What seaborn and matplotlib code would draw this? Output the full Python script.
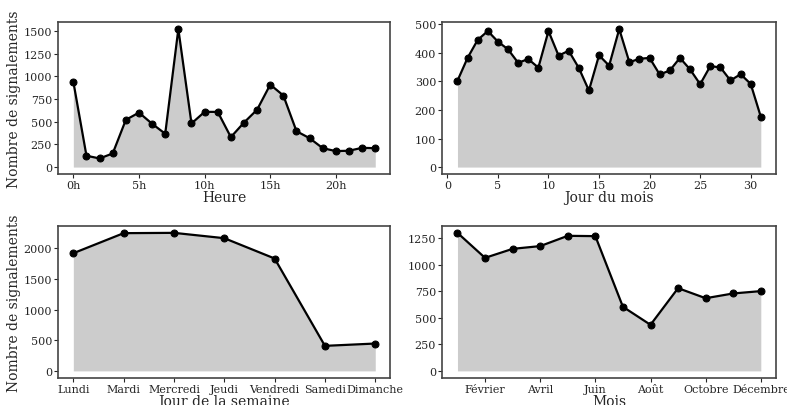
import numpy as np
import matplotlib
matplotlib.use('Agg')
import matplotlib.pyplot as plt
import seaborn as sns

# Data
heures = list(range(24))
signal_heure = [940, 125, 95, 150, 520, 600, 477, 367, 1520, 480, 608, 608, 330, 490,
                632, 908, 788, 395, 318, 208, 176, 180, 212, 208]

jours = list(range(1, 32))
signal_jour = [302, 382, 445, 476, 439, 412, 365, 378, 348, 476, 390, 407, 347, 268, 391,
               355, 483, 367, 379, 382, 324, 338, 382, 342, 290, 353, 349, 303, 325, 291, 176]

semaine = ['Lundi', 'Mardi', 'Mercredi', 'Jeudi', 'Vendredi', 'Samedi', 'Dimanche']
signal_semaine = [1918, 2245, 2250, 2163, 1832, 408, 446]

mois = list(range(1, 13))
mois_labels = ['Février', 'Avril', 'Juin', 'Août', 'Octobre', 'Décembre']
signal_mois = [1303, 1067, 1152, 1178, 1275, 1272, 605, 435, 781, 686, 731, 753]

sns.set_style('ticks')
plt.rcParams['font.family'] = ['DejaVu Serif']
plt.rcParams['axes.edgecolor'] = '#444444'
plt.rcParams['axes.linewidth'] = 1.2

fig = plt.figure(figsize=(7.87, 4.06), dpi=100)
ax1 = fig.add_axes([0.074, 0.569, 0.422, 0.374])
ax2 = fig.add_axes([0.562, 0.569, 0.424, 0.374])
ax3 = fig.add_axes([0.074, 0.067, 0.422, 0.374])
ax4 = fig.add_axes([0.562, 0.067, 0.424, 0.374])


def trace(ax, x, y, xlabel, ylabel=None):
    ax.fill_between(x, 0, y, color='#cccccc', linewidth=0)
    sns.lineplot(x=x, y=y, ax=ax, color='black', marker='o', markersize=5,
                 markeredgecolor='black', linewidth=1.6)
    ax.set_xlabel(xlabel, fontsize=10, labelpad=0)
    ax.set_ylabel(ylabel if ylabel else '', fontsize=10, labelpad=2)
    ax.tick_params(labelsize=8, length=3, pad=1.5)
    for s in ax.spines.values():
        s.set_visible(True)


trace(ax1, np.array(heures), signal_heure, 'Heure', 'Nombre de signalements')
ax1.set_xticks([0, 5, 10, 15, 20])
ax1.set_xticklabels(['0h', '5h', '10h', '15h', '20h'])
ax1.set_yticks([0, 250, 500, 750, 1000, 1250, 1500])

trace(ax2, np.array(jours), signal_jour, 'Jour du mois')
ax2.set_xticks([0, 5, 10, 15, 20, 25, 30])
ax2.set_yticks([0, 100, 200, 300, 400, 500])

trace(ax3, np.arange(len(semaine)), signal_semaine, 'Jour de la semaine', 'Nombre de signalements')
ax3.set_xticks(np.arange(len(semaine)))
ax3.set_xticklabels(semaine)
ax3.set_yticks([0, 500, 1000, 1500, 2000])

trace(ax4, np.array(mois), signal_mois, 'Mois')
ax4.set_xticks([2, 4, 6, 8, 10, 12])
ax4.set_xticklabels(mois_labels)
ax4.set_yticks([0, 250, 500, 750, 1000, 1250])

fig.savefig('out.png', dpi=100)
